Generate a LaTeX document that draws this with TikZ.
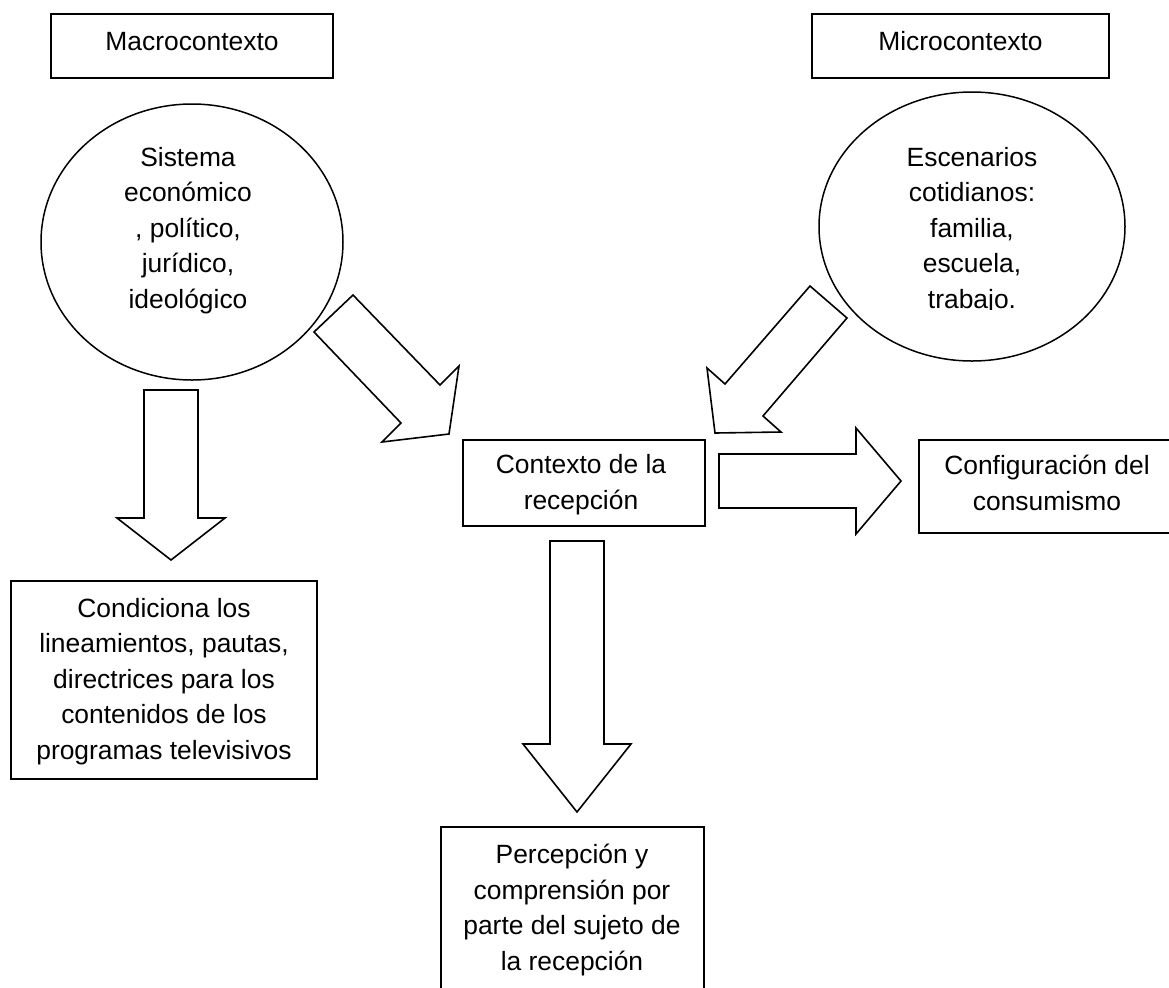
\documentclass[tikz,border=0pt]{standalone}
\usepackage{fontspec}
\setmainfont{Liberation Sans}
\usetikzlibrary{shapes.geometric}
\tikzset{
  box/.style={draw=black, line width=1pt, rectangle, inner sep=0pt},
  oval/.style={draw=black, line width=0.75pt, ellipse, inner sep=0pt},
  txt/.style={align=center, inner sep=0pt, font=\fontsize{13.2pt}{17.7pt}\selectfont},
  blockarrow/.style={draw=black, line width=0.8pt, fill=white, line join=miter}
}
\begin{document}
\begin{tikzpicture}[x=0.5pt,y=-0.5pt]
\path[use as bounding box, clip] (0,0) rectangle (1169,987);
\fill[white] (0,0) rectangle (1169,987);

% top boxes
\node[box, minimum width=141pt, minimum height=32pt] (macro) at (192,46) {};
\node[txt, anchor=base] (macrot) at (192,50) {Macrocontexto};
\node[box, minimum width=148.5pt, minimum height=32pt] (micro) at (960.5,46) {};
\node[txt, anchor=base] (microt) at (960.5,50) {Microcontexto};

% ellipses
\node[oval, minimum width=151pt, minimum height=138pt] (sis) at (192,242) {};
\node[txt, anchor=base] (sist) at (188,308) {Sistema\\económico\\, político,\\jurídico,\\ideológico};
\node[oval, minimum width=153pt, minimum height=134.5pt] (esc) at (972,226.5) {};
\begin{scope}
\clip (819,92) rectangle (1125,309);
\node[txt, anchor=base] (esct) at (972,308) {Escenarios\\cotidianos:\\familia,\\escuela,\\trabajo.};
\end{scope}

% boxes
\node[box, minimum width=121pt, minimum height=43pt] (ctx) at (584,483) {};
\node[txt, anchor=base] (ctxt) at (581,509) {Contexto de la\\recepción};
\node[box, minimum width=128pt, minimum height=46.5pt] (conf) at (1047,486.5) {};
\node[txt, anchor=base] (conft) at (1047,510) {Configuración del\\consumismo};
\node[box, minimum width=153pt, minimum height=99pt] (cond) at (164,680) {};
\node[txt, anchor=base] (condt) at (164,759) {Condiciona los\\lineamientos, pautas,\\directrices para los\\contenidos de los\\programas televisivos};
\node[box, minimum width=131.5pt, minimum height=81.5pt] (perc) at (572.5,908.5) {};
\node[txt, anchor=base] (perct) at (572,970) {Percepción y\\comprensión por\\parte del sujeto de\\la recepción};

% block arrows
\draw[blockarrow] (144,390) -- (198,390) -- (198,518) -- (225,518) -- (171,560) -- (117,518) -- (144,518) -- cycle;
\draw[blockarrow] (314,332) -- (353,295) -- (440,385) -- (459,366) -- (449,434) -- (382,442) -- (401,423) -- cycle;
\draw[blockarrow] (810,286) -- (847,318) -- (763,416) -- (781,432) -- (715,433) -- (707,368) -- (725,384) -- cycle;
\draw[blockarrow] (719,454) -- (856,454) -- (856,428) -- (901,481) -- (856,534) -- (856,508) -- (719,508) -- cycle;
\draw[blockarrow] (550,541) -- (604,541) -- (604,744) -- (631,744) -- (577,812) -- (523,744) -- (550,744) -- cycle;
\end{tikzpicture}
\end{document}
